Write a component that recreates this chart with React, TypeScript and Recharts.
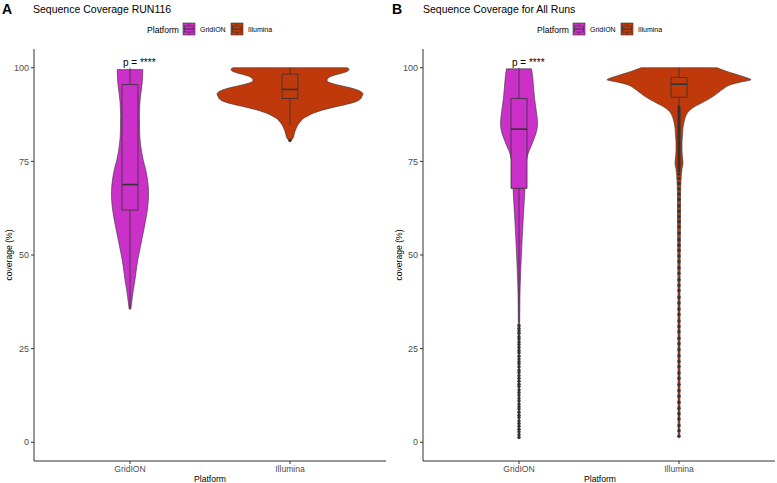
import React from 'react';
import {
  ComposedChart,
  Area,
  XAxis,
  YAxis,
  Scatter,
  ReferenceArea,
  ReferenceLine,
  ReferenceDot,
} from 'recharts';

const platforms = ['GridION', 'Illumina'];
const platformColors = ['#CB30C8', '#C0390B'];
const yTicks = [0, 25, 50, 75, 100];

// violin outlines: coverage level -> half width (density, px-ish units)
const run116GridY = [35.5, 37, 39, 41, 43, 45, 47, 49, 51, 53, 55, 57, 59, 61, 63, 65, 67, 69, 71, 73, 75, 77, 79, 81, 83, 85, 87, 89, 91, 93, 95, 97, 99.5];
const run116GridW = [0.8, 1.5, 2.5, 3.5, 4.8, 5.8, 6.8, 8, 9.5, 11, 12.5, 14, 15.5, 16.8, 17.8, 18.4, 18.5, 18, 17, 15.5, 13.5, 12, 10.8, 10, 9.6, 9.5, 9.4, 9.6, 10, 10.8, 11.8, 12.5, 12.8];
const run116IllY = [80.6, 81.2, 82, 83, 84, 85, 85.8, 86.4, 87, 87.6, 88.2, 88.8, 89.4, 90, 90.6, 91.2, 91.8, 92.4, 93, 93.6, 94.2, 94.8, 95.4, 96, 96.6, 97.2, 97.8, 98.4, 99, 99.6, 100];
const run116IllW = [1.2, 3, 4, 5, 6.5, 8.5, 11, 13, 17, 21, 27, 34, 43, 53, 62, 68, 71, 72, 73, 71, 66, 58, 48, 40, 37, 38, 42, 50, 57, 59, 57];

const allGridY = [1, 10, 20, 30, 35, 40, 45, 50, 55, 60, 64, 68, 72, 75, 77, 79, 81, 83, 85, 87, 89, 92, 95, 98, 99.7];
const allGridW = [0.4, 0.5, 0.5, 0.6, 0.8, 1, 1.6, 2.4, 3.3, 4.3, 5.2, 6, 6.5, 7.5, 9, 12, 15, 17.5, 18.5, 18, 17, 15.5, 14.5, 13.5, 12.5];
const allIllY = [1.5, 10, 20, 30, 40, 50, 60, 65, 70, 73, 74.5, 76, 78, 80, 82, 84, 86, 87.5, 88.7, 89.5, 90.5, 91.5, 92.5, 93.5, 94.5, 95.5, 96.2, 96.8, 97.3, 98, 99, 100];
const allIllW = [0.8, 1, 1, 1, 1, 1.2, 1.5, 1.5, 2, 3, 4, 3.5, 3, 3, 3.5, 4, 5.5, 7.5, 11, 15, 22, 29, 35, 40, 45, 52, 62, 72, 68, 60, 48, 38];

// box stats: [lower whisker, q1, median, q3, upper whisker]
const run116GridBox = [35.5, 62, 68.8, 95.5, 100];
const run116IllBox = [84.7, 91.8, 94.2, 98.3, 100];
const allGridBox = [32, 67.8, 83.6, 91.8, 100];
const allIllBox = [84, 92.1, 95.6, 97.4, 100];

// outliers
const run116GridOut: number[] = [];
const run116IllOut = [80.6];
const allGridOut = [31.2, 30.4, 29.7, 29.1, 28.2, 27.6, 26.8, 26.1, 25.3, 24.5, 23.9, 23.0, 22.2, 21.5, 20.9, 20.1, 19.2, 18.6, 17.8, 17.1, 16.3, 15.5, 14.9, 14.0, 13.3, 12.6, 11.8, 11.1, 10.2, 9.5, 8.9, 8.0, 7.2, 6.6, 5.7, 5.0, 4.3, 3.5, 2.8, 2.0, 1.3];
const allIllOut = [89.5, 88.8, 88.2, 87.5, 86.9, 86.2, 85.6, 85, 84.3, 83.7, 83, 82.4, 81.7, 81.1, 80.4, 79.8, 79.1, 78.5, 77.8, 77.2, 76.6, 76, 75.4, 74.9, 74.3, 73.8, 73.2, 72.5, 71.6, 70.4, 69.1, 67.6, 66.3, 64.8, 63.1, 61.7, 60.2, 58.9, 57.5, 55.8, 54.1, 52.6, 51.3, 49.7, 48.2, 46.6, 45.1, 43.4, 41.9, 40.5, 38.7, 37.2, 35.6, 34.1, 32.4, 30.9, 29.5, 27.8, 26.3, 24.7, 23.1, 21.6, 20.2, 18.5, 17.1, 15.4, 13.8, 12.3, 10.7, 9.1, 7.6, 6.2, 4.5, 3.1, 1.6];

const WIDTH_SCALE = 1 / 160;
const BOX_HALF = 0.05;
const LINE = '#333333';

type Violin = { ys: number[]; ws: number[]; box: number[]; outliers: number[] };

const panels = [
  { letter: 'A', title: 'Sequence Coverage RUN116', violins: [
    { ys: run116GridY, ws: run116GridW, box: run116GridBox, outliers: run116GridOut },
    { ys: run116IllY, ws: run116IllW, box: run116IllBox, outliers: run116IllOut },
  ] as Violin[] },
  { letter: 'B', title: 'Sequence Coverage for All Runs', violins: [
    { ys: allGridY, ws: allGridW, box: allGridBox, outliers: allGridOut },
    { ys: allIllY, ws: allIllW, box: allIllBox, outliers: allIllOut },
  ] as Violin[] },
];

const OutlierDot = (props: any) => (
  <circle cx={props.cx} cy={props.cy} r={1.7} fill={LINE} />
);

const Panel = ({ violins, left }: { violins: Violin[]; left: number }) => (
  <ComposedChart
    layout="vertical"
    width={388}
    height={483}
    margin={{ top: 49, right: 2, bottom: 0, left: 0 }}
    style={{ position: 'absolute', left, top: 0 }}
  >
    <XAxis
      type="number"
      dataKey="x"
      domain={[0.4, 2.6]}
      ticks={[1, 2]}
      tickFormatter={(v: number) => platforms[v - 1]}
      allowDataOverflow
      height={22}
      tickSize={3}
      stroke={LINE}
      tick={{ fontSize: 8.6, fill: '#4d4d4d' }}
    />
    <YAxis
      type="number"
      dataKey="y"
      domain={[-5, 105]}
      ticks={yTicks}
      allowDataOverflow
      reversed
      width={34}
      tickSize={3}
      stroke={LINE}
      tick={{ fontSize: 9, fill: '#4d4d4d' }}
    />
    {violins.map((v, i) => {
      const c = i + 1;
      const data = v.ys.map((y, k) => ({
        y,
        range: [c - v.ws[k] * WIDTH_SCALE, c + v.ws[k] * WIDTH_SCALE],
      }));
      return (
        <Area
          key={'v' + i}
          data={data}
          dataKey="range"
          type="monotoneY"
          fill={platformColors[i]}
          fillOpacity={1}
          stroke={LINE}
          strokeWidth={0.6}
          dot={false}
          activeDot={false}
          isAnimationActive={false}
        />
      );
    })}
    {violins.map((v, i) => {
      const c = i + 1;
      const top = v.ys[v.ys.length - 1];
      const w = v.ws[v.ws.length - 1] * WIDTH_SCALE;
      return (
        <ReferenceLine
          key={'t' + i}
          segment={[{ x: c - w, y: top }, { x: c + w, y: top }]}
          stroke={LINE}
          strokeWidth={0.6}
        />
      );
    })}
    {violins.map((v, i) => (
      <ReferenceLine
        key={'lw' + i}
        segment={[{ x: i + 1, y: v.box[0] }, { x: i + 1, y: v.box[1] }]}
        stroke={LINE}
        strokeWidth={0.8}
      />
    ))}
    {violins.map((v, i) => (
      <ReferenceLine
        key={'uw' + i}
        segment={[{ x: i + 1, y: v.box[3] }, { x: i + 1, y: v.box[4] }]}
        stroke={LINE}
        strokeWidth={0.8}
      />
    ))}
    {violins.map((v, i) => (
      <ReferenceArea
        key={'b' + i}
        x1={i + 1 - BOX_HALF}
        x2={i + 1 + BOX_HALF}
        y1={v.box[1]}
        y2={v.box[3]}
        fill={platformColors[i]}
        fillOpacity={1}
        stroke={LINE}
        strokeWidth={0.8}
      />
    ))}
    {violins.map((v, i) => (
      <ReferenceLine
        key={'m' + i}
        segment={[{ x: i + 1 - BOX_HALF, y: v.box[2] }, { x: i + 1 + BOX_HALF, y: v.box[2] }]}
        stroke={LINE}
        strokeWidth={1.6}
      />
    ))}
    {violins.map((v, i) => (
      <Scatter
        key={'o' + i}
        data={v.outliers.map((y) => ({ x: i + 1, y }))}
        shape={OutlierDot}
        isAnimationActive={false}
      />
    ))}
    <ReferenceDot
      x={1}
      y={101.3}
      r={0}
      stroke="none"
      label={{ value: 'p = ****', position: 'right', offset: -7, fontSize: 10, fill: '#000' }}
    />
  </ComposedChart>
);

const LegendKey = ({ x, color }: { x: number; color: string }) => (
  <g>
    <rect x={x} y={23} width={12} height={12} fill={color} stroke={LINE} strokeWidth={0.6} />
    <line x1={x + 6} y1={23} x2={x + 6} y2={26} stroke={LINE} strokeWidth={0.6} />
    <rect x={x + 1.5} y={26} width={9} height={6} fill={color} stroke={LINE} strokeWidth={0.6} />
    <line x1={x + 1.5} y1={29} x2={x + 10.5} y2={29} stroke={LINE} strokeWidth={1} />
    <line x1={x + 6} y1={32} x2={x + 6} y2={35} stroke={LINE} strokeWidth={0.6} />
  </g>
);

export default function App() {
  return (
    <div
      style={{
        position: 'absolute',
        left: 0,
        top: 0,
        width: 777,
        height: 483,
        background: '#fff',
        fontFamily: '"Liberation Sans", Arial, sans-serif',
      }}
    >
      {panels.map((p, idx) => (
        <Panel key={p.letter} violins={p.violins} left={idx * 389} />
      ))}
      <svg
        width={777}
        height={483}
        style={{ position: 'absolute', left: 0, top: 0, pointerEvents: 'none' }}
      >
        {panels.map((p, idx) => {
          const dx = idx * 390;
          return (
            <g key={p.letter} transform={`translate(${dx},0)`}>
              <text x={2} y={14} fontSize={14} fontWeight="bold" fill="#000">{p.letter}</text>
              <text x={33} y={12.5} fontSize={10.5} fill="#000">{p.title}</text>
              <text x={147} y={33} fontSize={8.6} fill="#000">Platform</text>
              <LegendKey x={183} color={platformColors[0]} />
              <text x={200} y={32} fontSize={7} fill="#000">{platforms[0]}</text>
              <LegendKey x={231} color={platformColors[1]} />
              <text x={248} y={32} fontSize={7} fill="#000">{platforms[1]}</text>
              <text x={12} y={255} fontSize={8.6} fill="#000" textAnchor="middle" transform="rotate(-90,12,255)">coverage (%)</text>
              <text x={210} y={482} fontSize={8.6} fill="#000" textAnchor="middle">Platform</text>
            </g>
          );
        })}
      </svg>
    </div>
  );
}
